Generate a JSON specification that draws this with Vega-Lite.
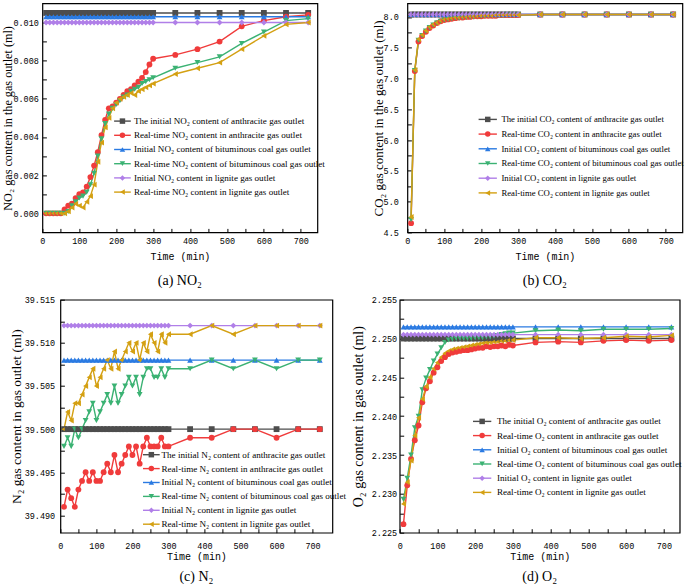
{
"$schema": "https://vega.github.io/schema/vega-lite/v6.json",
"padding": {"left": 0.4, "top": 2.4, "right": 0, "bottom": 0},
"config": {
  "view": {"stroke": "black", "strokeWidth": 1.2},
  "axis": {"domain": false, "grid": false, "tickColor": "black", "tickWidth": 1, "tickSize": -4, "labelColor": "black", "titleColor": "black", "labelFlush": false, "labelOverlap": false, "labelBound": false, "labelFont": "Liberation Mono", "labelFontSize": 8.5, "titleFontWeight": "normal"},
  "line": {"strokeWidth": 1.4},
  "point": {"filled": true, "size": 34, "opacity": 1},
  "legend": {"orient": "none", "direction": "vertical", "title": null, "padding": 0, "labelFont": "Liberation Serif", "labelFontSize": 9.1, "labelColor": "black", "labelLimit": 0, "rowPadding": 4.2}
},
"bounds": "flush",
"spacing": 296.3,
"resolve": {"scale": {"color": "independent", "fill": "independent", "shape": "independent"}, "legend": {"color": "independent", "fill": "independent", "shape": "independent"}},
"vconcat": [
{
"bounds": "flush",
"spacing": 90,
"resolve": {"scale": {"color": "independent", "fill": "independent", "shape": "independent"}, "legend": {"color": "independent", "fill": "independent", "shape": "independent"}},
"hconcat": [
{
 "width": 275, "height": 229,
 "data": {"values": [
  {"t":10,"a0":0.0105,"a1":0,"b0":0.0103,"b1":0,"l0":0.01,"l1":0},
  {"t":20,"a0":0.0105,"a1":0,"b0":0.0103,"b1":0,"l0":0.01,"l1":0},
  {"t":30,"a0":0.0105,"a1":0,"b0":0.0103,"b1":0,"l0":0.01,"l1":0},
  {"t":40,"a0":0.0105,"a1":0,"b0":0.0103,"b1":0,"l0":0.01,"l1":0},
  {"t":50,"a0":0.0105,"a1":0,"b0":0.0103,"b1":0,"l0":0.01,"l1":0},
  {"t":60,"a0":0.0105,"a1":0.0002,"b0":0.0103,"b1":0,"l0":0.01,"l1":0},
  {"t":70,"a0":0.0105,"a1":0.0004,"b0":0.0103,"b1":0.0001,"l0":0.01,"l1":0.0001},
  {"t":80,"a0":0.0105,"a1":0.0005,"b0":0.0103,"b1":0.0004,"l0":0.01,"l1":0.0003},
  {"t":90,"a0":0.0105,"a1":0.0008,"b0":0.0103,"b1":0.0006,"l0":0.01,"l1":0.0005},
  {"t":100,"a0":0.0105,"a1":0.001,"b0":0.0103,"b1":0.0008,"l0":0.01,"l1":0.0004},
  {"t":110,"a0":0.0105,"a1":0.0011,"b0":0.0103,"b1":0.0009,"l0":0.01,"l1":0.0003},
  {"t":120,"a0":0.0105,"a1":0.0014,"b0":0.0103,"b1":0.0011,"l0":0.01,"l1":0.0006},
  {"t":130,"a0":0.0105,"a1":0.0019,"b0":0.0103,"b1":0.0015,"l0":0.01,"l1":0.0009},
  {"t":140,"a0":0.0105,"a1":0.0025,"b0":0.0103,"b1":0.0021,"l0":0.01,"l1":0.0015},
  {"t":150,"a0":0.0105,"a1":0.0032,"b0":0.0103,"b1":0.003,"l0":0.01,"l1":0.0027},
  {"t":160,"a0":0.0105,"a1":0.0041,"b0":0.0103,"b1":0.0039,"l0":0.01,"l1":0.0037},
  {"t":170,"a0":0.0105,"a1":0.0049,"b0":0.0103,"b1":0.0047,"l0":0.01,"l1":0.0045},
  {"t":180,"a0":0.0105,"a1":0.0055,"b0":0.0103,"b1":0.0052,"l0":0.01,"l1":0.005},
  {"t":190,"a0":0.0105,"a1":0.0056,"b0":0.0103,"b1":0.0055,"l0":0.01,"l1":0.0055},
  {"t":200,"a0":0.0105,"a1":0.0058,"b0":0.0103,"b1":0.0057,"l0":0.01,"l1":0.0058},
  {"t":210,"a0":0.0105,"a1":0.006,"b0":0.0103,"b1":0.0059,"l0":0.01,"l1":0.006},
  {"t":220,"a0":0.0105,"a1":0.0062,"b0":0.0103,"b1":0.0061,"l0":0.01,"l1":0.0061},
  {"t":230,"a0":0.0105,"a1":0.0064,"b0":0.0103,"b1":0.0062,"l0":0.01,"l1":0.0062},
  {"t":240,"a0":0.0105,"a1":0.0065,"b0":0.0103,"b1":0.0064,"l0":0.01,"l1":0.0063},
  {"t":250,"a0":0.0105,"a1":0.0067,"b0":0.0103,"b1":0.0065,"l0":0.01,"l1":0.0062},
  {"t":260,"a0":0.0105,"a1":0.0069,"b0":0.0103,"b1":0.0066,"l0":0.01,"l1":0.0064},
  {"t":270,"a0":0.0105,"a1":0.0071,"b0":0.0103,"b1":0.0068,"l0":0.01,"l1":0.0065},
  {"t":280,"a0":0.0105,"a1":0.0074,"b0":0.0103,"b1":0.0069,"l0":0.01,"l1":0.0066},
  {"t":290,"a0":0.0105,"a1":0.0078,"b0":0.0103,"b1":0.007,"l0":0.01,"l1":0.0067},
  {"t":300,"a0":0.0105,"a1":0.0081,"b0":0.0103,"b1":0.0071,"l0":0.01,"l1":0.0068},
  {"t":360,"a0":0.0105,"a1":0.0083,"b0":0.0103,"b1":0.0076,"l0":0.01,"l1":0.0073},
  {"t":420,"a0":0.0105,"a1":0.0086,"b0":0.0103,"b1":0.0079,"l0":0.01,"l1":0.0076},
  {"t":480,"a0":0.0105,"a1":0.009,"b0":0.0103,"b1":0.0082,"l0":0.01,"l1":0.0079},
  {"t":540,"a0":0.0105,"a1":0.0098,"b0":0.0103,"b1":0.0089,"l0":0.01,"l1":0.0086},
  {"t":600,"a0":0.0105,"a1":0.0101,"b0":0.0103,"b1":0.0095,"l0":0.01,"l1":0.0093},
  {"t":660,"a0":0.0105,"a1":0.0103,"b0":0.0103,"b1":0.0101,"l0":0.01,"l1":0.0099},
  {"t":720,"a0":0.0105,"a1":0.0104,"b0":0.0103,"b1":0.0102,"l0":0.01,"l1":0.01}
 ]},
 "transform": [
  {"fold": ["a0","a1","b0","b1","l0","l1"], "as": ["k","v"]},
  {"lookup": "k", "from": {"data": {"values": [
    {"k":"a0","series":"The initial NO₂ content of anthracite gas outlet"},
    {"k":"a1","series":"Real-time NO₂ content in anthracite gas outlet"},
    {"k":"b0","series":"Initial NO₂ content of bituminous coal gas outlet"},
    {"k":"b1","series":"Real-time NO₂ content of bituminous coal gas outlet"},
    {"k":"l0","series":"Initial NO₂ content in lignite gas outlet"},
    {"k":"l1","series":"Real-time NO₂ content in lignite gas outlet"}]}, "key": "k", "fields": ["series"]}}
 ],
 "title": {"text": "(a) NO₂", "orient": "bottom", "anchor": "middle", "frame": "group", "font": "Liberation Serif", "fontSize": 14, "fontWeight": "normal", "color": "black", "offset": 12},
 "encoding": {
  "x": {"field": "t", "type": "quantitative", "scale": {"domain": [0, 745], "nice": false},
        "axis": {"title": "Time (min)", "titleFont": "Liberation Mono", "titleFontSize": 10, "titlePadding": 7, "labelPadding": 8,
                 "values": [0,50,100,150,200,250,300,350,400,450,500,550,600,650,700],
                 "labelExpr": "datum.value % 100 === 0 ? datum.label : ''"}},
  "y": {"field": "v", "type": "quantitative", "scale": {"domain": [-0.001, 0.011], "nice": false, "zero": false},
        "axis": {"title": "NO₂ gas content in the gas outlet (ml)", "titleFont": "Liberation Serif", "titleFontSize": 12.2, "titlePadding": -1.5, "labelPadding": 8,
                 "values": [0,0.001,0.002,0.003,0.004,0.005,0.006,0.007,0.008,0.009,0.01],
                 "labelExpr": "round(datum.value*1000) % 2 === 0 ? format(datum.value, '.3f') : ''"}}
 },
 "layer": [
  {"mark": {"type": "line"},
   "encoding": {"color": {"field": "series", "type": "nominal",
     "scale": {"domain": ["The initial NO₂ content of anthracite gas outlet","Real-time NO₂ content in anthracite gas outlet","Initial NO₂ content of bituminous coal gas outlet","Real-time NO₂ content of bituminous coal gas outlet","Initial NO₂ content in lignite gas outlet","Real-time NO₂ content in lignite gas outlet"],
               "range": ["#4d4d4d","#f03b3b","#2a7ae2","#3bb273","#b07fe8","#d4a012"]},
     "legend": {"legendX": 71.7, "legendY": 113.15, "symbolType": "M-2.78,0H2.78", "symbolSize": 36, "symbolStrokeWidth": 1.5, "symbolOffset": 3.8, "labelOffset": 6.9}}}},
  {"mark": {"type": "point"},
   "encoding": {
    "fill": {"field": "series", "type": "nominal",
     "scale": {"domain": ["The initial NO₂ content of anthracite gas outlet","Real-time NO₂ content in anthracite gas outlet","Initial NO₂ content of bituminous coal gas outlet","Real-time NO₂ content of bituminous coal gas outlet","Initial NO₂ content in lignite gas outlet","Real-time NO₂ content in lignite gas outlet","·"],
               "range": ["#4d4d4d","#f03b3b","#2a7ae2","#3bb273","#b07fe8","#d4a012","#000000"]},
     "legend": {"legendX": 71.7, "legendY": 113.15, "values": ["The initial NO₂ content of anthracite gas outlet","Real-time NO₂ content in anthracite gas outlet","Initial NO₂ content of bituminous coal gas outlet","Real-time NO₂ content of bituminous coal gas outlet","Initial NO₂ content in lignite gas outlet","Real-time NO₂ content in lignite gas outlet"], "symbolSize": 30, "symbolStrokeWidth": 0, "symbolOffset": 3.8, "labelOffset": 6.9, "labelExpr": "''"}},
    "shape": {"field": "series", "type": "nominal",
     "scale": {"domain": ["The initial NO₂ content of anthracite gas outlet","Real-time NO₂ content in anthracite gas outlet","Initial NO₂ content of bituminous coal gas outlet","Real-time NO₂ content of bituminous coal gas outlet","Initial NO₂ content in lignite gas outlet","Real-time NO₂ content in lignite gas outlet","·"],
               "range": ["square","circle","triangle-up","triangle-down","diamond","triangle-left","circle"]},
     "legend": {"legendX": 71.7, "legendY": 113.15, "values": ["The initial NO₂ content of anthracite gas outlet","Real-time NO₂ content in anthracite gas outlet","Initial NO₂ content of bituminous coal gas outlet","Real-time NO₂ content of bituminous coal gas outlet","Initial NO₂ content in lignite gas outlet","Real-time NO₂ content in lignite gas outlet"], "symbolSize": 30, "symbolStrokeWidth": 0, "symbolOffset": 3.8, "labelOffset": 6.9, "labelExpr": "''"}}}}
 ]
},
{
 "width": 275, "height": 229,
 "data": {"values": [
  {"t":10,"a0":8.04,"a1":4.65,"b0":8.04,"b1":4.71,"l0":8.04,"l1":4.75},
  {"t":20,"a0":8.04,"a1":7.12,"b0":8.04,"b1":7.13,"l0":8.04,"l1":7.14},
  {"t":30,"a0":8.04,"a1":7.6,"b0":8.04,"b1":7.62,"l0":8.04,"l1":7.64},
  {"t":40,"a0":8.04,"a1":7.69,"b0":8.04,"b1":7.7,"l0":8.04,"l1":7.71},
  {"t":50,"a0":8.04,"a1":7.76,"b0":8.04,"b1":7.77,"l0":8.04,"l1":7.78},
  {"t":60,"a0":8.04,"a1":7.82,"b0":8.04,"b1":7.83,"l0":8.04,"l1":7.84},
  {"t":70,"a0":8.04,"a1":7.86,"b0":8.04,"b1":7.87,"l0":8.04,"l1":7.88},
  {"t":80,"a0":8.04,"a1":7.9,"b0":8.04,"b1":7.9,"l0":8.04,"l1":7.91},
  {"t":90,"a0":8.04,"a1":7.93,"b0":8.04,"b1":7.93,"l0":8.04,"l1":7.94},
  {"t":100,"a0":8.04,"a1":7.95,"b0":8.04,"b1":7.95,"l0":8.04,"l1":7.96},
  {"t":110,"a0":8.04,"a1":7.96,"b0":8.04,"b1":7.96,"l0":8.04,"l1":7.97},
  {"t":120,"a0":8.04,"a1":7.97,"b0":8.04,"b1":7.97,"l0":8.04,"l1":7.98},
  {"t":130,"a0":8.04,"a1":7.98,"b0":8.04,"b1":7.98,"l0":8.04,"l1":7.99},
  {"t":140,"a0":8.04,"a1":7.99,"b0":8.04,"b1":7.98,"l0":8.04,"l1":7.99},
  {"t":150,"a0":8.04,"a1":7.99,"b0":8.04,"b1":7.99,"l0":8.04,"l1":8.0},
  {"t":160,"a0":8.04,"a1":8.0,"b0":8.04,"b1":7.99,"l0":8.04,"l1":8.0},
  {"t":170,"a0":8.04,"a1":8.0,"b0":8.04,"b1":8.0,"l0":8.04,"l1":8.01},
  {"t":180,"a0":8.04,"a1":8.01,"b0":8.04,"b1":8.0,"l0":8.04,"l1":8.01},
  {"t":190,"a0":8.04,"a1":8.01,"b0":8.04,"b1":8.01,"l0":8.04,"l1":8.01},
  {"t":200,"a0":8.04,"a1":8.01,"b0":8.04,"b1":8.01,"l0":8.04,"l1":8.02},
  {"t":210,"a0":8.04,"a1":8.02,"b0":8.04,"b1":8.01,"l0":8.04,"l1":8.02},
  {"t":220,"a0":8.04,"a1":8.02,"b0":8.04,"b1":8.02,"l0":8.04,"l1":8.02},
  {"t":230,"a0":8.04,"a1":8.02,"b0":8.04,"b1":8.02,"l0":8.04,"l1":8.02},
  {"t":240,"a0":8.04,"a1":8.02,"b0":8.04,"b1":8.02,"l0":8.04,"l1":8.03},
  {"t":250,"a0":8.04,"a1":8.03,"b0":8.04,"b1":8.02,"l0":8.04,"l1":8.03},
  {"t":260,"a0":8.04,"a1":8.03,"b0":8.04,"b1":8.02,"l0":8.04,"l1":8.03},
  {"t":270,"a0":8.04,"a1":8.03,"b0":8.04,"b1":8.03,"l0":8.04,"l1":8.03},
  {"t":280,"a0":8.04,"a1":8.03,"b0":8.04,"b1":8.03,"l0":8.04,"l1":8.03},
  {"t":290,"a0":8.04,"a1":8.03,"b0":8.04,"b1":8.03,"l0":8.04,"l1":8.03},
  {"t":300,"a0":8.04,"a1":8.03,"b0":8.04,"b1":8.03,"l0":8.04,"l1":8.03},
  {"t":360,"a0":8.04,"a1":8.04,"b0":8.04,"b1":8.04,"l0":8.04,"l1":8.04},
  {"t":420,"a0":8.04,"a1":8.04,"b0":8.04,"b1":8.04,"l0":8.04,"l1":8.04},
  {"t":480,"a0":8.04,"a1":8.04,"b0":8.04,"b1":8.04,"l0":8.04,"l1":8.04},
  {"t":540,"a0":8.04,"a1":8.04,"b0":8.04,"b1":8.04,"l0":8.04,"l1":8.04},
  {"t":600,"a0":8.04,"a1":8.04,"b0":8.04,"b1":8.04,"l0":8.04,"l1":8.04},
  {"t":660,"a0":8.04,"a1":8.04,"b0":8.04,"b1":8.04,"l0":8.04,"l1":8.04},
  {"t":720,"a0":8.04,"a1":8.04,"b0":8.04,"b1":8.04,"l0":8.04,"l1":8.04}
 ]},
 "transform": [
  {"fold": ["a0","a1","b0","b1","l0","l1"], "as": ["k","v"]},
  {"lookup": "k", "from": {"data": {"values": [
    {"k":"a0","series":"The initial CO₂ content of anthracite gas outlet"},
    {"k":"a1","series":"Real-time CO₂ content in anthracite gas outlet"},
    {"k":"b0","series":"Initial CO₂ content of bituminous coal gas outlet"},
    {"k":"b1","series":"Real-time CO₂ content of bituminous coal gas outlet"},
    {"k":"l0","series":"Initial CO₂ content in lignite gas outlet"},
    {"k":"l1","series":"Real-time CO₂ content in lignite gas outlet"}]}, "key": "k", "fields": ["series"]}}
 ],
 "title": {"text": "(b) CO₂", "orient": "bottom", "anchor": "middle", "frame": "group", "font": "Liberation Serif", "fontSize": 14, "fontWeight": "normal", "color": "black", "offset": 12},
 "encoding": {
  "x": {"field": "t", "type": "quantitative", "scale": {"domain": [0, 745], "nice": false},
        "axis": {"title": "Time (min)", "titleFont": "Liberation Mono", "titleFontSize": 10, "titlePadding": 7, "labelPadding": 8,
                 "values": [0,50,100,150,200,250,300,350,400,450,500,550,600,650,700],
                 "labelExpr": "datum.value % 100 === 0 ? datum.label : ''"}},
  "y": {"field": "v", "type": "quantitative", "scale": {"domain": [4.5, 8.22], "nice": false, "zero": false},
        "axis": {"title": "CO₂ gas content in the gas outlet (ml)", "titleFont": "Liberation Serif", "titleFontSize": 13, "titlePadding": -2.5, "labelPadding": 13,
                 "values": [4.5,4.75,5,5.25,5.5,5.75,6,6.25,6.5,6.75,7,7.25,7.5,7.75,8],
                 "labelExpr": "round(datum.value*100) % 50 === 0 ? format(datum.value, '.1f') : ''"}}
 },
 "layer": [
  {"mark": {"type": "line"},
   "encoding": {"color": {"field": "series", "type": "nominal",
     "scale": {"domain": ["The initial CO₂ content of anthracite gas outlet","Real-time CO₂ content in anthracite gas outlet","Initial CO₂ content of bituminous coal gas outlet","Real-time CO₂ content of bituminous coal gas outlet","Initial CO₂ content in lignite gas outlet","Real-time CO₂ content in lignite gas outlet"],
               "range": ["#4d4d4d","#f03b3b","#2a7ae2","#3bb273","#b07fe8","#d4a012"]},
     "legend": {"legendX": 71.2, "legendY": 111.65, "labelFontSize": 8.7, "rowPadding": 4.7, "symbolType": "M-3.05,0H3.05", "symbolSize": 36, "symbolStrokeWidth": 1.5, "symbolOffset": 4.8, "labelOffset": 9.3}}}},
  {"mark": {"type": "point"},
   "encoding": {
    "fill": {"field": "series", "type": "nominal",
     "scale": {"domain": ["The initial CO₂ content of anthracite gas outlet","Real-time CO₂ content in anthracite gas outlet","Initial CO₂ content of bituminous coal gas outlet","Real-time CO₂ content of bituminous coal gas outlet","Initial CO₂ content in lignite gas outlet","Real-time CO₂ content in lignite gas outlet","·"],
               "range": ["#4d4d4d","#f03b3b","#2a7ae2","#3bb273","#b07fe8","#d4a012","#000000"]},
     "legend": {"legendX": 71.2, "legendY": 111.65, "labelFontSize": 8.7, "rowPadding": 4.7, "values": ["The initial CO₂ content of anthracite gas outlet","Real-time CO₂ content in anthracite gas outlet","Initial CO₂ content of bituminous coal gas outlet","Real-time CO₂ content of bituminous coal gas outlet","Initial CO₂ content in lignite gas outlet","Real-time CO₂ content in lignite gas outlet"], "symbolSize": 30, "symbolStrokeWidth": 0, "symbolOffset": 4.8, "labelOffset": 9.3, "labelExpr": "''"}},
    "shape": {"field": "series", "type": "nominal",
     "scale": {"domain": ["The initial CO₂ content of anthracite gas outlet","Real-time CO₂ content in anthracite gas outlet","Initial CO₂ content of bituminous coal gas outlet","Real-time CO₂ content of bituminous coal gas outlet","Initial CO₂ content in lignite gas outlet","Real-time CO₂ content in lignite gas outlet","·"],
               "range": ["square","circle","triangle-up","triangle-down","diamond","triangle-left","circle"]},
     "legend": {"legendX": 71.2, "legendY": 111.65, "labelFontSize": 8.7, "rowPadding": 4.7, "values": ["The initial CO₂ content of anthracite gas outlet","Real-time CO₂ content in anthracite gas outlet","Initial CO₂ content of bituminous coal gas outlet","Real-time CO₂ content of bituminous coal gas outlet","Initial CO₂ content in lignite gas outlet","Real-time CO₂ content in lignite gas outlet"], "symbolSize": 30, "symbolStrokeWidth": 0, "symbolOffset": 4.8, "labelOffset": 9.3, "labelExpr": "''"}}}}
 ]
}
]
},
{
"bounds": "flush",
"spacing": 0,
"resolve": {"scale": {"color": "independent", "fill": "independent", "shape": "independent"}, "legend": {"color": "independent", "fill": "independent", "shape": "independent"}},
"hconcat": [
{"width": 17.4, "height": 1, "data": {"values": []}, "mark": "point", "view": {"stroke": null}},
{
"bounds": "flush",
"spacing": 67.3,
"resolve": {"scale": {"color": "independent", "fill": "independent", "shape": "independent"}, "legend": {"color": "independent", "fill": "independent", "shape": "independent"}},
"hconcat": [
{
 "width": 272, "height": 233,
 "data": {"values": [
  {"t":10,"a0":39.5,"a1":39.491,"b0":39.508,"b1":39.498,"l0":39.512,"l1":39.5},
  {"t":20,"a0":39.5,"a1":39.493,"b0":39.508,"b1":39.499,"l0":39.512,"l1":39.502},
  {"t":30,"a0":39.5,"a1":39.492,"b0":39.508,"b1":39.498,"l0":39.512,"l1":39.501},
  {"t":40,"a0":39.5,"a1":39.491,"b0":39.508,"b1":39.5,"l0":39.512,"l1":39.503},
  {"t":50,"a0":39.5,"a1":39.493,"b0":39.508,"b1":39.499,"l0":39.512,"l1":39.503},
  {"t":60,"a0":39.5,"a1":39.494,"b0":39.508,"b1":39.5,"l0":39.512,"l1":39.504},
  {"t":70,"a0":39.5,"a1":39.495,"b0":39.508,"b1":39.501,"l0":39.512,"l1":39.505},
  {"t":80,"a0":39.5,"a1":39.494,"b0":39.508,"b1":39.502,"l0":39.512,"l1":39.506},
  {"t":90,"a0":39.5,"a1":39.495,"b0":39.508,"b1":39.503,"l0":39.512,"l1":39.507},
  {"t":100,"a0":39.5,"a1":39.494,"b0":39.508,"b1":39.501,"l0":39.512,"l1":39.505},
  {"t":110,"a0":39.5,"a1":39.494,"b0":39.508,"b1":39.502,"l0":39.512,"l1":39.506},
  {"t":120,"a0":39.5,"a1":39.495,"b0":39.508,"b1":39.503,"l0":39.512,"l1":39.507},
  {"t":130,"a0":39.5,"a1":39.496,"b0":39.508,"b1":39.504,"l0":39.512,"l1":39.508},
  {"t":140,"a0":39.5,"a1":39.495,"b0":39.508,"b1":39.503,"l0":39.512,"l1":39.507},
  {"t":150,"a0":39.5,"a1":39.497,"b0":39.508,"b1":39.505,"l0":39.512,"l1":39.509},
  {"t":160,"a0":39.5,"a1":39.495,"b0":39.508,"b1":39.503,"l0":39.512,"l1":39.507},
  {"t":170,"a0":39.5,"a1":39.496,"b0":39.508,"b1":39.504,"l0":39.512,"l1":39.508},
  {"t":180,"a0":39.5,"a1":39.497,"b0":39.508,"b1":39.505,"l0":39.512,"l1":39.509},
  {"t":190,"a0":39.5,"a1":39.498,"b0":39.508,"b1":39.506,"l0":39.512,"l1":39.51},
  {"t":200,"a0":39.5,"a1":39.497,"b0":39.508,"b1":39.505,"l0":39.512,"l1":39.509},
  {"t":210,"a0":39.5,"a1":39.498,"b0":39.508,"b1":39.506,"l0":39.512,"l1":39.51},
  {"t":220,"a0":39.5,"a1":39.496,"b0":39.508,"b1":39.504,"l0":39.512,"l1":39.508},
  {"t":230,"a0":39.5,"a1":39.498,"b0":39.508,"b1":39.506,"l0":39.512,"l1":39.51},
  {"t":240,"a0":39.5,"a1":39.499,"b0":39.508,"b1":39.507,"l0":39.512,"l1":39.509},
  {"t":250,"a0":39.5,"a1":39.498,"b0":39.508,"b1":39.507,"l0":39.512,"l1":39.511},
  {"t":260,"a0":39.5,"a1":39.498,"b0":39.508,"b1":39.506,"l0":39.512,"l1":39.51},
  {"t":270,"a0":39.5,"a1":39.498,"b0":39.508,"b1":39.506,"l0":39.512,"l1":39.509},
  {"t":280,"a0":39.5,"a1":39.499,"b0":39.508,"b1":39.507,"l0":39.512,"l1":39.511},
  {"t":290,"a0":39.5,"a1":39.498,"b0":39.508,"b1":39.506,"l0":39.512,"l1":39.51},
  {"t":300,"a0":39.5,"a1":39.498,"b0":39.508,"b1":39.507,"l0":39.512,"l1":39.511},
  {"t":360,"a0":39.5,"a1":39.499,"b0":39.508,"b1":39.507,"l0":39.512,"l1":39.511},
  {"t":420,"a0":39.5,"a1":39.499,"b0":39.508,"b1":39.508,"l0":39.512,"l1":39.512},
  {"t":480,"a0":39.5,"a1":39.5,"b0":39.508,"b1":39.507,"l0":39.512,"l1":39.511},
  {"t":540,"a0":39.5,"a1":39.5,"b0":39.508,"b1":39.508,"l0":39.512,"l1":39.512},
  {"t":600,"a0":39.5,"a1":39.499,"b0":39.508,"b1":39.507,"l0":39.512,"l1":39.512},
  {"t":660,"a0":39.5,"a1":39.5,"b0":39.508,"b1":39.508,"l0":39.512,"l1":39.512},
  {"t":720,"a0":39.5,"a1":39.5,"b0":39.508,"b1":39.508,"l0":39.512,"l1":39.512}
 ]},
 "transform": [
  {"fold": ["a0","a1","b0","b1","l0","l1"], "as": ["k","v"]},
  {"lookup": "k", "from": {"data": {"values": [
    {"k":"a0","series":"The initial N₂ content of anthracite gas outlet"},
    {"k":"a1","series":"Real-time N₂ content in anthracite gas outlet"},
    {"k":"b0","series":"Initial N₂ content of bituminous coal gas outlet"},
    {"k":"b1","series":"Real-time N₂ content of bituminous coal gas outlet"},
    {"k":"l0","series":"Initial N₂ content in lignite gas outlet"},
    {"k":"l1","series":"Real-time N₂ content in lignite gas outlet"}]}, "key": "k", "fields": ["series"]}}
 ],
 "title": {"text": "(c) N₂", "orient": "bottom", "anchor": "middle", "frame": "group", "font": "Liberation Serif", "fontSize": 14, "fontWeight": "normal", "color": "black", "offset": 8},
 "encoding": {
  "x": {"field": "t", "type": "quantitative", "scale": {"domain": [0, 755], "nice": false},
        "axis": {"title": "Time (min)", "titleFont": "Liberation Mono", "titleFontSize": 10, "titlePadding": 1.5, "labelPadding": 13,
                 "values": [0,50,100,150,200,250,300,350,400,450,500,550,600,650,700],
                 "labelExpr": "datum.value % 100 === 0 ? datum.label : ''"}},
  "y": {"field": "v", "type": "quantitative", "scale": {"domain": [39.488, 39.515], "nice": false, "zero": false},
        "axis": {"title": "N₂ gas content in gas outlet (ml)", "titleFont": "Liberation Serif", "titleFontSize": 13.5, "titlePadding": 0.5, "labelPadding": 9.7,
                 "values": [39.49,39.4925,39.495,39.4975,39.5,39.5025,39.505,39.5075,39.51,39.5125,39.515],
                 "labelExpr": "round(datum.value*10000) % 50 === 0 ? format(datum.value, '.3f') : ''"}}
 },
 "layer": [
  {"mark": {"type": "line"},
   "encoding": {"color": {"field": "series", "type": "nominal",
     "scale": {"domain": ["The initial N₂ content of anthracite gas outlet","Real-time N₂ content in anthracite gas outlet","Initial N₂ content of bituminous coal gas outlet","Real-time N₂ content of bituminous coal gas outlet","Initial N₂ content in lignite gas outlet","Real-time N₂ content in lignite gas outlet"],
               "range": ["#4d4d4d","#f03b3b","#2a7ae2","#3bb273","#b07fe8","#d4a012"]},
     "legend": {"legendX": 82.6, "legendY": 150.45, "rowPadding": 3.9, "symbolType": "M-2.78,0H2.78", "symbolSize": 36, "symbolStrokeWidth": 1.5, "symbolOffset": 3.8, "labelOffset": 5.6}}}},
  {"mark": {"type": "point"},
   "encoding": {
    "fill": {"field": "series", "type": "nominal",
     "scale": {"domain": ["The initial N₂ content of anthracite gas outlet","Real-time N₂ content in anthracite gas outlet","Initial N₂ content of bituminous coal gas outlet","Real-time N₂ content of bituminous coal gas outlet","Initial N₂ content in lignite gas outlet","Real-time N₂ content in lignite gas outlet","·"],
               "range": ["#4d4d4d","#f03b3b","#2a7ae2","#3bb273","#b07fe8","#d4a012","#000000"]},
     "legend": {"legendX": 82.6, "legendY": 150.45, "rowPadding": 3.9, "values": ["The initial N₂ content of anthracite gas outlet","Real-time N₂ content in anthracite gas outlet","Initial N₂ content of bituminous coal gas outlet","Real-time N₂ content of bituminous coal gas outlet","Initial N₂ content in lignite gas outlet","Real-time N₂ content in lignite gas outlet"], "symbolSize": 30, "symbolStrokeWidth": 0, "symbolOffset": 3.8, "labelOffset": 5.6, "labelExpr": "''"}},
    "shape": {"field": "series", "type": "nominal",
     "scale": {"domain": ["The initial N₂ content of anthracite gas outlet","Real-time N₂ content in anthracite gas outlet","Initial N₂ content of bituminous coal gas outlet","Real-time N₂ content of bituminous coal gas outlet","Initial N₂ content in lignite gas outlet","Real-time N₂ content in lignite gas outlet","·"],
               "range": ["square","circle","triangle-up","triangle-down","diamond","triangle-left","circle"]},
     "legend": {"legendX": 82.6, "legendY": 150.45, "rowPadding": 3.9, "values": ["The initial N₂ content of anthracite gas outlet","Real-time N₂ content in anthracite gas outlet","Initial N₂ content of bituminous coal gas outlet","Real-time N₂ content of bituminous coal gas outlet","Initial N₂ content in lignite gas outlet","Real-time N₂ content in lignite gas outlet"], "symbolSize": 30, "symbolStrokeWidth": 0, "symbolOffset": 3.8, "labelOffset": 5.6, "labelExpr": "''"}}}}
 ]
},
{
 "width": 280, "height": 233,
 "data": {"values": [
  {"t":10,"a0":2.25,"a1":2.2261,"b0":2.2515,"b1":2.2293,"l0":2.2505,"l1":2.2287},
  {"t":20,"a0":2.25,"a1":2.2311,"b0":2.2515,"b1":2.232,"l0":2.2505,"l1":2.2315},
  {"t":30,"a0":2.25,"a1":2.2345,"b0":2.2515,"b1":2.235,"l0":2.2505,"l1":2.2343},
  {"t":40,"a0":2.25,"a1":2.2369,"b0":2.2515,"b1":2.2385,"l0":2.2505,"l1":2.2375},
  {"t":50,"a0":2.25,"a1":2.2388,"b0":2.2515,"b1":2.24,"l0":2.2505,"l1":2.2398},
  {"t":60,"a0":2.25,"a1":2.2418,"b0":2.2515,"b1":2.2434,"l0":2.2505,"l1":2.2422},
  {"t":70,"a0":2.25,"a1":2.2436,"b0":2.2515,"b1":2.2449,"l0":2.2505,"l1":2.2438},
  {"t":80,"a0":2.25,"a1":2.2445,"b0":2.2515,"b1":2.246,"l0":2.2505,"l1":2.245},
  {"t":90,"a0":2.25,"a1":2.2456,"b0":2.2515,"b1":2.2471,"l0":2.2505,"l1":2.2461},
  {"t":100,"a0":2.25,"a1":2.2463,"b0":2.2515,"b1":2.248,"l0":2.2505,"l1":2.2469},
  {"t":110,"a0":2.25,"a1":2.2471,"b0":2.2515,"b1":2.2488,"l0":2.2505,"l1":2.2476},
  {"t":120,"a0":2.25,"a1":2.2476,"b0":2.2515,"b1":2.2495,"l0":2.2505,"l1":2.2481},
  {"t":130,"a0":2.25,"a1":2.248,"b0":2.2515,"b1":2.2498,"l0":2.2505,"l1":2.2484},
  {"t":140,"a0":2.25,"a1":2.2482,"b0":2.2515,"b1":2.2499,"l0":2.2505,"l1":2.2486},
  {"t":150,"a0":2.25,"a1":2.2483,"b0":2.2515,"b1":2.25,"l0":2.2505,"l1":2.2487},
  {"t":160,"a0":2.25,"a1":2.2484,"b0":2.2515,"b1":2.25,"l0":2.2505,"l1":2.2488},
  {"t":170,"a0":2.25,"a1":2.2485,"b0":2.2515,"b1":2.25,"l0":2.2505,"l1":2.2489},
  {"t":180,"a0":2.25,"a1":2.2485,"b0":2.2515,"b1":2.25,"l0":2.2505,"l1":2.249},
  {"t":190,"a0":2.25,"a1":2.2486,"b0":2.2515,"b1":2.25,"l0":2.2505,"l1":2.2491},
  {"t":200,"a0":2.25,"a1":2.2487,"b0":2.2515,"b1":2.2501,"l0":2.2505,"l1":2.2492},
  {"t":210,"a0":2.25,"a1":2.2488,"b0":2.2515,"b1":2.2501,"l0":2.2505,"l1":2.2493},
  {"t":220,"a0":2.25,"a1":2.2488,"b0":2.2515,"b1":2.2501,"l0":2.2505,"l1":2.2494},
  {"t":230,"a0":2.25,"a1":2.249,"b0":2.2515,"b1":2.2502,"l0":2.2505,"l1":2.2495},
  {"t":240,"a0":2.25,"a1":2.2489,"b0":2.2515,"b1":2.2502,"l0":2.2505,"l1":2.2495},
  {"t":250,"a0":2.25,"a1":2.249,"b0":2.2515,"b1":2.2503,"l0":2.2505,"l1":2.2496},
  {"t":260,"a0":2.25,"a1":2.249,"b0":2.2515,"b1":2.2504,"l0":2.2505,"l1":2.2496},
  {"t":270,"a0":2.25,"a1":2.2491,"b0":2.2515,"b1":2.2505,"l0":2.2505,"l1":2.2497},
  {"t":280,"a0":2.25,"a1":2.249,"b0":2.2515,"b1":2.2506,"l0":2.2505,"l1":2.2497},
  {"t":290,"a0":2.25,"a1":2.2492,"b0":2.2515,"b1":2.2507,"l0":2.2505,"l1":2.2498},
  {"t":300,"a0":2.25,"a1":2.2491,"b0":2.2515,"b1":2.2507,"l0":2.2505,"l1":2.2498},
  {"t":360,"a0":2.25,"a1":2.2495,"b0":2.2515,"b1":2.251,"l0":2.2505,"l1":2.2501},
  {"t":420,"a0":2.25,"a1":2.2496,"b0":2.2515,"b1":2.2511,"l0":2.2505,"l1":2.2501},
  {"t":480,"a0":2.25,"a1":2.2495,"b0":2.2515,"b1":2.251,"l0":2.2505,"l1":2.25},
  {"t":540,"a0":2.25,"a1":2.2497,"b0":2.2515,"b1":2.2512,"l0":2.2505,"l1":2.2501},
  {"t":600,"a0":2.25,"a1":2.2498,"b0":2.2515,"b1":2.2512,"l0":2.2505,"l1":2.2503},
  {"t":660,"a0":2.25,"a1":2.2497,"b0":2.2515,"b1":2.2512,"l0":2.2505,"l1":2.2502},
  {"t":720,"a0":2.25,"a1":2.2498,"b0":2.2515,"b1":2.2513,"l0":2.2505,"l1":2.2504}
 ]},
 "transform": [
  {"fold": ["a0","a1","b0","b1","l0","l1"], "as": ["k","v"]},
  {"lookup": "k", "from": {"data": {"values": [
    {"k":"a0","series":"The initial O₂ content of anthracite gas outlet"},
    {"k":"a1","series":"Real-time O₂ content in anthracite gas outlet"},
    {"k":"b0","series":"Initial O₂ content of bituminous coal gas outlet"},
    {"k":"b1","series":"Real-time O₂ content of bituminous coal gas outlet"},
    {"k":"l0","series":"Initial O₂ content in lignite gas outlet"},
    {"k":"l1","series":"Real-time O₂ content in lignite gas outlet"}]}, "key": "k", "fields": ["series"]}}
 ],
 "title": {"text": "(d) O₂", "orient": "bottom", "anchor": "middle", "frame": "group", "font": "Liberation Serif", "fontSize": 14, "fontWeight": "normal", "color": "black", "offset": 8},
 "encoding": {
  "x": {"field": "t", "type": "quantitative", "scale": {"domain": [0, 742], "nice": false},
        "axis": {"title": "Time (min)", "titleFont": "Liberation Mono", "titleFontSize": 10, "titlePadding": 1.5, "labelPadding": 13,
                 "values": [0,50,100,150,200,250,300,350,400,450,500,550,600,650,700],
                 "labelExpr": "datum.value % 100 === 0 ? datum.label : ''"}},
  "y": {"field": "v", "type": "quantitative", "scale": {"domain": [2.225, 2.255], "nice": false, "zero": false},
        "axis": {"title": "O₂ gas content in gas outlet (ml)", "titleFont": "Liberation Serif", "titleFontSize": 14, "titlePadding": 5.5, "labelPadding": 7,
                 "values": [2.225,2.2275,2.23,2.2325,2.235,2.2375,2.24,2.2425,2.245,2.2475,2.25,2.2525,2.255],
                 "labelExpr": "round(datum.value*10000) % 50 === 0 ? format(datum.value, '.3f') : ''"}}
 },
 "layer": [
  {"mark": {"type": "line"},
   "encoding": {"color": {"field": "series", "type": "nominal",
     "scale": {"domain": ["The initial O₂ content of anthracite gas outlet","Real-time O₂ content in anthracite gas outlet","Initial O₂ content of bituminous coal gas outlet","Real-time O₂ content of bituminous coal gas outlet","Initial O₂ content in lignite gas outlet","Real-time O₂ content in lignite gas outlet"],
               "range": ["#4d4d4d","#f03b3b","#2a7ae2","#3bb273","#b07fe8","#d4a012"]},
     "legend": {"legendX": 73.3, "legendY": 117.15, "symbolType": "M-3.05,0H3.05", "symbolSize": 36, "symbolStrokeWidth": 1.5, "symbolOffset": 4.6, "labelOffset": 10.3}}}},
  {"mark": {"type": "point"},
   "encoding": {
    "fill": {"field": "series", "type": "nominal",
     "scale": {"domain": ["The initial O₂ content of anthracite gas outlet","Real-time O₂ content in anthracite gas outlet","Initial O₂ content of bituminous coal gas outlet","Real-time O₂ content of bituminous coal gas outlet","Initial O₂ content in lignite gas outlet","Real-time O₂ content in lignite gas outlet","·"],
               "range": ["#4d4d4d","#f03b3b","#2a7ae2","#3bb273","#b07fe8","#d4a012","#000000"]},
     "legend": {"legendX": 73.3, "legendY": 117.15, "values": ["The initial O₂ content of anthracite gas outlet","Real-time O₂ content in anthracite gas outlet","Initial O₂ content of bituminous coal gas outlet","Real-time O₂ content of bituminous coal gas outlet","Initial O₂ content in lignite gas outlet","Real-time O₂ content in lignite gas outlet"], "symbolSize": 30, "symbolStrokeWidth": 0, "symbolOffset": 4.6, "labelOffset": 10.3, "labelExpr": "''"}},
    "shape": {"field": "series", "type": "nominal",
     "scale": {"domain": ["The initial O₂ content of anthracite gas outlet","Real-time O₂ content in anthracite gas outlet","Initial O₂ content of bituminous coal gas outlet","Real-time O₂ content of bituminous coal gas outlet","Initial O₂ content in lignite gas outlet","Real-time O₂ content in lignite gas outlet","·"],
               "range": ["square","circle","triangle-up","triangle-down","diamond","triangle-left","circle"]},
     "legend": {"legendX": 73.3, "legendY": 117.15, "values": ["The initial O₂ content of anthracite gas outlet","Real-time O₂ content in anthracite gas outlet","Initial O₂ content of bituminous coal gas outlet","Real-time O₂ content of bituminous coal gas outlet","Initial O₂ content in lignite gas outlet","Real-time O₂ content in lignite gas outlet"], "symbolSize": 30, "symbolStrokeWidth": 0, "symbolOffset": 4.6, "labelOffset": 10.3, "labelExpr": "''"}}}}
 ]
}
]
}
]
}
]
}
